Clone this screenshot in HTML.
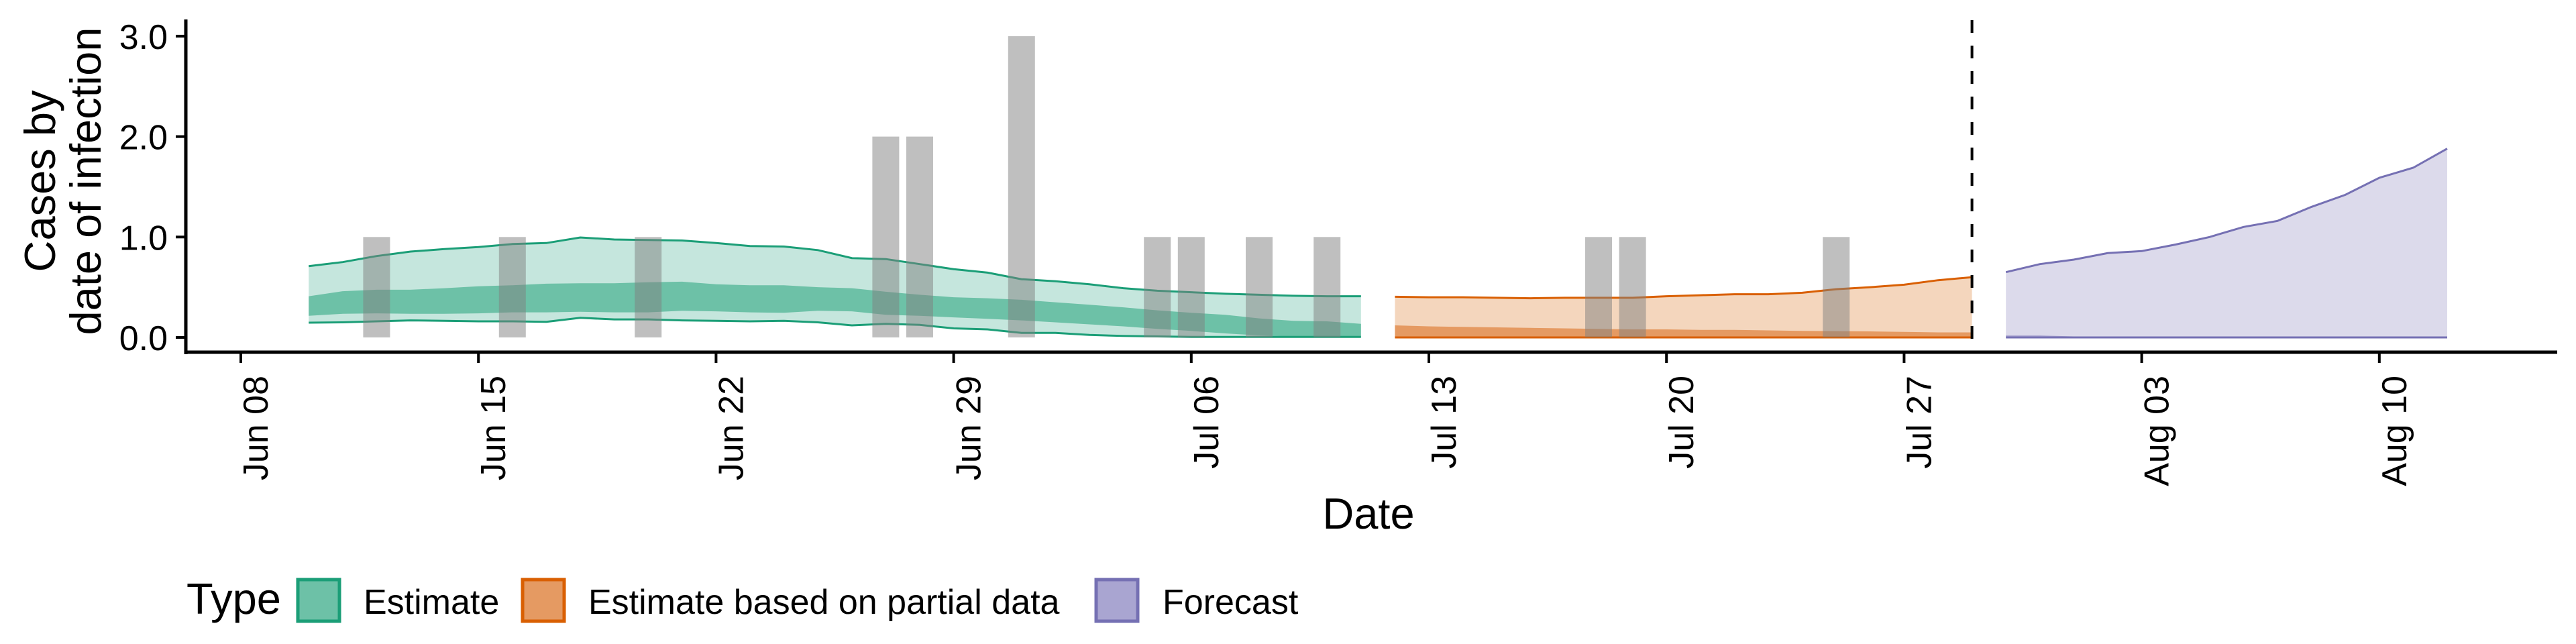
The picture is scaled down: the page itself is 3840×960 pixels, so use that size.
<!DOCTYPE html>
<html><head><meta charset="utf-8"><style>
html,body{margin:0;padding:0;background:#fff;}
svg{display:block;font-family:"Liberation Sans",sans-serif;}
</style></head><body>
<svg id="chart" width="3840" height="960" viewBox="0 0 3840 960" xmlns="http://www.w3.org/2000/svg">
<g id="plot"></g>
<g id="axes"></g>
<text transform="translate(0,270) rotate(-90)" font-size="65" text-anchor="middle"><tspan x="0" y="82">Cases by</tspan><tspan x="0" y="150">date of infection</tspan></text>
<text x="2040" y="788" font-size="65" text-anchor="middle">Date</text>
<g>
<text x="278" y="915" font-size="65">Type</text>
<g>
<rect x="444" y="864" width="62" height="62" fill="#6dc1a7" stroke="#1b9e77" stroke-width="5"/>
<text x="542" y="915" font-size="52">Estimate</text></g>
<g>
<rect x="779" y="864" width="62" height="62" fill="#e59a62" stroke="#d95f02" stroke-width="5"/>
<text x="877" y="915" font-size="52">Estimate based on partial data</text></g>
<g>
<rect x="1634" y="864" width="62" height="62" fill="#a9a5d1" stroke="#7570b3" stroke-width="5"/>
<text x="1733" y="915" font-size="52">Forecast</text></g>
</g>
</svg>
<script>
const estStart = 2;
const estUpper90 = [0.71,0.75,0.81,0.855,0.88,0.90,0.93,0.94,0.995,0.975,0.97,0.965,0.94,0.91,0.905,0.87,0.79,0.78,0.73,0.68,0.645,0.58,0.56,0.53,0.49,0.465,0.45,0.435,0.425,0.415,0.41,0.41];
const estLower90 = [0.147,0.15,0.16,0.17,0.165,0.16,0.16,0.155,0.195,0.18,0.18,0.17,0.165,0.16,0.165,0.15,0.12,0.135,0.125,0.09,0.08,0.045,0.045,0.025,0.015,0.01,0.005,0.005,0.005,0.005,0.005,0.005];
const estUpper50 = [0.41,0.46,0.475,0.475,0.49,0.51,0.52,0.535,0.54,0.54,0.55,0.555,0.53,0.52,0.52,0.50,0.49,0.455,0.425,0.40,0.39,0.375,0.35,0.325,0.30,0.27,0.245,0.225,0.19,0.165,0.16,0.135];
const estLower50 = [0.215,0.235,0.24,0.235,0.235,0.24,0.25,0.25,0.255,0.25,0.25,0.265,0.26,0.25,0.245,0.265,0.26,0.225,0.215,0.2,0.185,0.17,0.15,0.13,0.11,0.085,0.065,0.04,0.02,0.01,0.01,0.01];
const partStart = 34;
const partUpper90 = [0.405,0.40,0.40,0.395,0.39,0.395,0.395,0.395,0.41,0.42,0.43,0.43,0.445,0.48,0.50,0.525,0.57,0.60];
const partUpper50 = [0.12,0.11,0.105,0.1,0.095,0.09,0.085,0.08,0.08,0.075,0.075,0.07,0.065,0.063,0.06,0.055,0.05,0.05];
const partLower = [0,0,0,0,0,0,0,0,0,0,0,0,0,0,0,0,0,0];
const fcStart = 52;
const fcUpper90 = [0.65,0.73,0.775,0.84,0.86,0.925,1.0,1.1,1.16,1.30,1.42,1.59,1.69,1.88];
const fcUpper50 = [0.02,0.02,0.01,0.01,0.01,0.01,0.01,0.01,0.01,0.01,0.01,0.005,0.005,0.005];
const fcLower = [0,0,0,0,0,0,0,0,0,0,0,0,0,0];
const barDays = [4,8,12,19,20,23,27,28,30,32,40,41,47];
const barValues = [1,1,1,2,2,3,1,1,1,1,1,1,1];
const xTickDays = [0,7,14,21,28,35,42,49,56,63];
const xTickLabels = ["Jun 08","Jun 15","Jun 22","Jun 29","Jul 06","Jul 13","Jul 20","Jul 27","Aug 03","Aug 10"];
const yTicks = [0,1,2,3];
const yTickLabels = ["0.0","1.0","2.0","3.0"];
const forecastDay = 51;

const NS="http://www.w3.org/2000/svg";
const xs = d => 359 + d*50.6;
const ys = v => 503 - v*149.7;
const plot=document.getElementById('plot'), axes=document.getElementById('axes');
function mk(tag, attrs, parent){const e=document.createElementNS(NS,tag);for(const k in attrs)e.setAttribute(k,attrs[k]);parent.appendChild(e);return e;}
function ribbon(start, up, lo, fill, name){
  let pts=[];
  up.forEach((v,i)=>pts.push(xs(start+i).toFixed(1)+','+ys(v).toFixed(1)));
  for(let i=lo.length-1;i>=0;i--)pts.push(xs(start+i).toFixed(1)+','+ys(lo[i]).toFixed(1));
  const p=mk('polygon',{points:pts.join(' '),fill:fill},plot);
  
  
}
function line(start, vals, color, name){
  const pts=vals.map((v,i)=>xs(start+i).toFixed(1)+','+ys(v).toFixed(1)).join(' ');
  const p=mk('polyline',{points:pts,fill:'none',stroke:color,'stroke-width':3},plot);
  
  
}
ribbon(estStart,estUpper90,estLower90,'#c5e6dd','estimate-ribbon-90');
ribbon(estStart,estUpper50,estLower50,'#6dc1a7','estimate-ribbon-50');
line(estStart,estUpper90,'#1b9e77','estimate-upper-line');
line(estStart,estLower90,'#1b9e77','estimate-lower-line');
ribbon(partStart,partUpper90,partLower,'#f4d6bd','partial-ribbon-90');
ribbon(partStart,partUpper50,partLower,'#e59a62','partial-ribbon-50');
line(partStart,partUpper90,'#d95f02','partial-upper-line');
line(partStart,partLower,'#d95f02','partial-lower-line');
ribbon(fcStart,fcUpper90,fcLower,'#dcdaeb','forecast-ribbon-90');
ribbon(fcStart,fcUpper50,fcLower,'#a9a5d1','forecast-ribbon-50');
line(fcStart,fcUpper90,'#7570b3','forecast-upper-line');
line(fcStart,fcLower,'#7570b3','forecast-lower-line');
barDays.forEach((d,i)=>{
  const r=mk('rect',{x:xs(d)-20,y:ys(barValues[i]),width:40,height:ys(0)-ys(barValues[i]),fill:'#808080','fill-opacity':0.5},plot);
  
  
});
const dl=mk('line',{x1:xs(forecastDay),x2:xs(forecastDay),y1:30,y2:525,stroke:'#000','stroke-width':4,'stroke-dasharray':'19 19'},plot);


// axes
const ya=mk('line',{x1:277,x2:277,y1:29,y2:528,stroke:'#000','stroke-width':5},axes);


const xa=mk('line',{x1:275,x2:3812,y1:525,y2:525,stroke:'#000','stroke-width':5},axes);


yTicks.forEach((v,i)=>{
  mk('line',{x1:262,x2:277,y1:ys(v),y2:ys(v),stroke:'#000','stroke-width':4},axes);
  const t=mk('text',{x:250,y:ys(v)+19,'font-size':52,'text-anchor':'end'},axes);
  t.textContent=yTickLabels[i];
  
  
});
xTickDays.forEach((d,i)=>{
  const x=xs(d);
  mk('line',{x1:x,x2:x,y1:527,y2:541,stroke:'#000','stroke-width':4},axes);
  const t=mk('text',{transform:`translate(${x+40},560) rotate(-90)`,'font-size':52,'text-anchor':'end'},axes);
  t.textContent=xTickLabels[i];
  
  
});
</script>
</body></html>
